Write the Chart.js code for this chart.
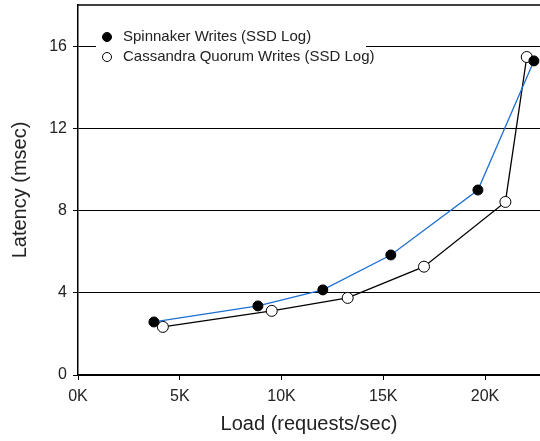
<!DOCTYPE html>
<html>
<head>
<meta charset="utf-8">
<script src="https://cdn.jsdelivr.net/npm/chart.js@4/dist/chart.umd.min.js"></script>
<style>
  html, body { margin: 0; padding: 0; background: #fff; }
  #wrap { width: 540px; height: 441px; }
</style>
</head>
<body>
<div id="wrap"><canvas id="chart"></canvas></div>
<script>
// Series data (load in requests/sec, latency in msec)
const spinnakerLoad = [3730, 8840, 12030, 15370, 19650, 22400];
const spinnakerLatency = [2.58, 3.36, 4.14, 5.84, 9.0, 15.28];
const cassandraLoad = [4170, 9520, 13250, 17000, 21000, 22050];
const cassandraLatency = [2.34, 3.12, 3.75, 5.27, 8.42, 15.47];
const seriesLabels = ['Spinnaker Writes (SSD Log)', 'Cassandra Quorum Writes (SSD Log)'];
const xTicks = [0, 5000, 10000, 15000, 20000];
const yTicks = [0, 4, 8, 12, 16];

const FONT = 'Liberation Sans, Arial, Helvetica, sans-serif';

function toPoints(xs, ys) {
    return xs.map((x, i) => ({ x: x, y: ys[i] }));
}

// Draws the top border and the legend box inside the plot area
const frameAndLegend = {
    id: 'frameAndLegend',
    afterDraw(chart) {
        const ctx = chart.ctx;
        const area = chart.chartArea;
        ctx.save();
        ctx.strokeStyle = '#000';
        ctx.lineWidth = 1.5;
        ctx.beginPath();
        ctx.moveTo(area.left, area.top);
        ctx.lineTo(area.right, area.top);
        ctx.stroke();

        // legend
        const lx = area.left + 18;
        const ly = area.top + 22;
        ctx.fillStyle = '#fff';
        ctx.fillRect(lx, ly, 270, 44);
        ctx.font = '15px ' + FONT;
        ctx.textBaseline = 'middle';
        chart.data.datasets.forEach((ds, i) => {
            const y = ly + 10 + i * 20;
            ctx.beginPath();
            ctx.arc(lx + 11, y, 4.5, 0, Math.PI * 2);
            ctx.fillStyle = ds.pointBackgroundColor;
            ctx.fill();
            ctx.lineWidth = 1;
            ctx.strokeStyle = '#000';
            ctx.stroke();
            ctx.fillStyle = '#222';
            ctx.fillText(ds.label, lx + 27, y);
        });
        ctx.restore();
    }
};

new Chart(document.getElementById('chart'), {
    type: 'scatter',
    data: {
        datasets: [
            {
                label: seriesLabels[0],
                data: toPoints(spinnakerLoad, spinnakerLatency),
                showLine: true,
                borderColor: '#1f6fd2',
                borderWidth: 1.3,
                pointBackgroundColor: '#000',
                pointBorderColor: '#000',
                pointBorderWidth: 1,
                pointRadius: 5,
                tension: 0
            },
            {
                label: seriesLabels[1],
                data: toPoints(cassandraLoad, cassandraLatency),
                showLine: true,
                borderColor: '#000',
                borderWidth: 1.3,
                pointBackgroundColor: '#fff',
                pointBorderColor: '#000',
                pointBorderWidth: 1,
                pointRadius: 5.5,
                tension: 0
            }
        ]
    },
    options: {
        responsive: true,
        maintainAspectRatio: false,
        animation: false,
        layout: { autoPadding: false, padding: { top: 5, right: 0, left: 0, bottom: 0 } },
        plugins: {
            legend: { display: false },
            tooltip: { enabled: false }
        },
        scales: {
            x: {
                type: 'linear',
                min: 0,
                max: 22700,
                afterBuildTicks: function(scale) {
                    scale.ticks = xTicks.map(v => ({ value: v }));
                },
                afterFit: function(scale) {
                    scale.height = 66;
                    scale.paddingLeft = 0;
                    scale.paddingRight = 0;
                },
                border: { color: '#000', width: 1.5 },
                grid: {
                    drawOnChartArea: false,
                    color: '#000',
                    tickLength: 5
                },
                ticks: {
                    color: '#222',
                    font: { size: 16, family: FONT },
                    padding: 7,
                    maxRotation: 0,
                    callback: function(value) { return (value / 1000) + 'K'; }
                },
                title: {
                    display: true,
                    text: 'Load (requests/sec)',
                    color: '#222',
                    font: { size: 20, family: FONT },
                    padding: { top: 0, bottom: 5 }
                }
            },
            y: {
                min: 0,
                max: 18,
                afterBuildTicks: function(scale) {
                    scale.ticks = yTicks.map(v => ({ value: v }));
                },
                afterFit: function(scale) {
                    scale.width = 78;
                    scale.paddingTop = 0;
                    scale.paddingBottom = 0;
                },
                border: { color: '#000', width: 1.5 },
                grid: {
                    color: '#000',
                    lineWidth: 1,
                    tickLength: 5
                },
                ticks: {
                    color: '#222',
                    font: { size: 16, family: FONT },
                    padding: 6
                },
                title: {
                    display: true,
                    text: 'Latency (msec)',
                    color: '#222',
                    font: { size: 20, family: FONT },
                    padding: { top: 8, bottom: 0 }
                }
            }
        }
    },
    plugins: [frameAndLegend]
});
</script>
</body>
</html>
